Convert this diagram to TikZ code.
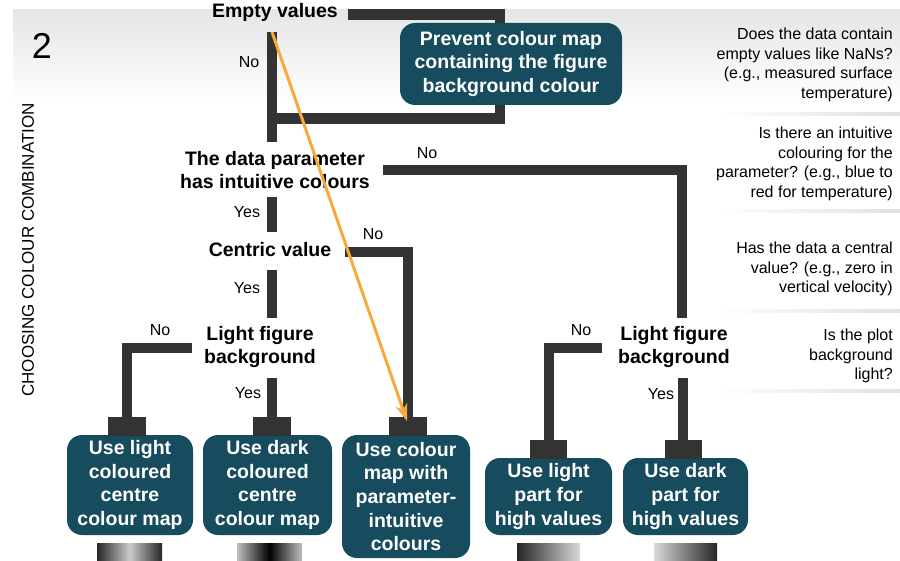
\documentclass[tikz,border=0pt]{standalone}
\usepackage{fontspec}
\setmainfont{Liberation Sans}
\usetikzlibrary{arrows.meta,calc}
\definecolor{barc}{HTML}{333333}
\definecolor{boxc}{HTML}{164C5D}
\definecolor{arrc}{HTML}{F7A93B}
\tikzset{
  bar/.style={draw=barc, line width=10.5pt, line join=miter},
  qtext/.style={font=\bfseries\fontsize{19.5}{23.5}\selectfont, align=center, inner sep=0pt},
  ansbox/.style={fill=boxc, rounded corners=15pt, text=white, font=\bfseries\fontsize{19.5}{23.6}\selectfont, align=center, inner sep=0pt},
  lab/.style={font=\fontsize{16}{19}\selectfont, inner sep=0pt},
  note/.style={font=\fontsize{16}{19.6}\selectfont, align=right, inner sep=0pt, anchor=north east},
  capbar/.style={fill=barc},
  orangearrow/.style={draw=arrc, line width=3pt, -{Stealth[length=17pt,width=12pt,inset=5pt]}},
}
\begin{document}
\begin{tikzpicture}[x=1pt,y=-1pt]
\useasboundingbox (0,0) rectangle (900,561);
% background band and panel shadows
\shade[top color=black!10, bottom color=white] (13,10) rectangle (900,100);
\foreach \yy in {113,210,310,390}{
  \shade[left color=white, right color=black!12] (715,\yy) rectangle (900,\yy+3);
}
% title and side label
\node[font=\fontsize{36}{40}\selectfont, inner sep=0pt] (num) at (42,46) {2};
\node[font=\fontsize{17}{20}\selectfont, rotate=90, inner sep=0pt] (side) at (28,250) {CHOOSING COLOUR COMBINATION};

% notes
\node[note] (n1) at (893,28) {Does the data contain\\empty values like NaNs?\\(e.g., measured surface\\temperature)};
\node[note] (n2) at (893,127) {Is there an intuitive\\colouring for the\\parameter? (e.g., blue to\\red for temperature)};
\node[note] (n3) at (893,242) {Has the data a central\\value? (e.g., zero in\\vertical velocity)};
\node[note] (n4) at (893,329) {Is the plot\\background\\light?};

% decision texts
\node[qtext] (ev) at (275,12) {Empty values};
\node[qtext] (dp) at (275,170) {The data parameter\\has intuitive colours};
\node[qtext] (cv) at (270,250) {Centric value};
\node[qtext] (lfa) at (260,347) {Light figure\\background};
\node[qtext] (lfb) at (674,347) {Light figure\\background};

% corner coordinates
\coordinate (c1) at (500,14.5);
\coordinate (c2) at (500,118.5);
\coordinate (c3) at (272,118.5);
\coordinate (c4) at (682,170);
\coordinate (c5) at (408,252);
\coordinate (c6) at (127,348);
\coordinate (c7) at (549,348);

% bars
\draw[bar] (348,14.5) -- (c1) -- (c2) -- (c3);
\draw[bar] (272,32) -- (272,142);
\draw[bar] (272,197) -- (272,232);
\draw[bar] (272,270) -- (272,318);
\draw[bar] (383,170) -- (c4) -- (682,318);
\draw[bar] (345,252) -- (c5) -- (408,418);
\draw[bar] (192,348) -- (c6) -- (127,418);
\draw[bar] (272,378) -- (272,418);
\draw[bar] (602,348) -- (c7) -- (549,441);
\draw[bar] (683,378) -- (683,441);

% answer boxes
\node[ansbox, minimum width=222pt, minimum height=82pt] (pv) at (511,64) {Prevent colour map\\containing the figure\\background colour};
\node[ansbox, minimum width=126pt, minimum height=100pt] (b1) at (130,485) {Use light\\coloured\\centre\\colour map};
\node[ansbox, minimum width=129pt, minimum height=100pt] (b2) at (267.5,485) {Use dark\\coloured\\centre\\colour map};
\node[ansbox, minimum width=128pt, minimum height=123pt] (b3) at (406,496.5) {Use colour\\map with\\parameter-\\intuitive\\colours};
\node[ansbox, minimum width=127pt, minimum height=77pt] (b4) at (548.5,496.5) {Use light\\part for\\high values};
\node[ansbox, minimum width=125pt, minimum height=77pt] (b5) at (685.5,496.5) {Use dark\\part for\\high values};

% caps
\fill[capbar] (108,417) rectangle (146,435.5);
\fill[capbar] (253,417) rectangle (291,435.5);
\fill[capbar] (389,417) rectangle (427,435.5);
\fill[capbar] (530,440) rectangle (567,458.5);
\fill[capbar] (665,440) rectangle (702,458.5);

% labels
\node[lab] (l1) at (249,62) {No};
\node[lab] (l2) at (427,153) {No};
\node[lab] (l3) at (247,212) {Yes};
\node[lab] (l4) at (373,234) {No};
\node[lab] (l5) at (247,288) {Yes};
\node[lab] (l6) at (160,330) {No};
\node[lab] (l7) at (248,393) {Yes};
\node[lab] (l8) at (581,330) {No};
\node[lab] (l9) at (661,394) {Yes};

% gradient bars
\shade[left color=black!85, right color=black!85, middle color=black!20] (97,543) rectangle (162,561);
\shade[left color=black!25, right color=black!25, middle color=black] (237,543) rectangle (302,561);
\shade[left color=black!85, right color=black!15] (517,543) rectangle (580,561);
\shade[left color=black!15, right color=black!85] (654,543) rectangle (717,561);

% orange arrow
\coordinate (oa) at (272,32);
\draw[orangearrow] (oa) -- ([xshift=1pt]b3.north |- 0,421);
\end{tikzpicture}
\end{document}
